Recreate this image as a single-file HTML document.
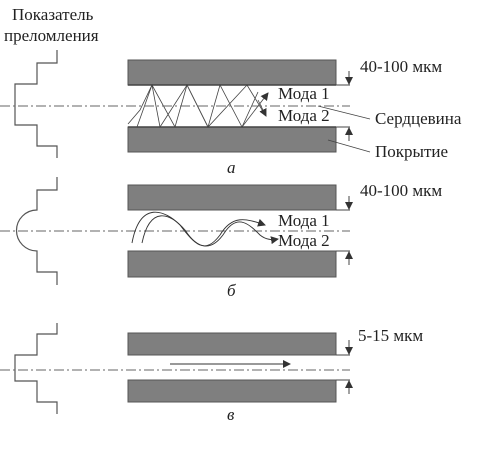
<!DOCTYPE html>
<html><head><meta charset="utf-8"><style>
html,body{margin:0;padding:0;background:#fff;width:477px;height:457px;overflow:hidden}
svg text{font-family:"Liberation Serif",serif;fill:#222}
</style></head><body>
<svg width="477" height="457" viewBox="0 0 477 457">
<defs>
<marker id="ah" markerWidth="8" markerHeight="8" refX="7" refY="4" orient="auto" markerUnits="userSpaceOnUse"><path d="M0,0 L8,4 L0,8 z" fill="#333"/></marker>
</defs>
<text x="12" y="20" font-size="17">Показатель</text>
<text x="4" y="41" font-size="17">преломления</text>

<!-- Panel a -->
<g>
<path d="M57,50 V63 H37 V84 H15 V125 H37 V146 H57 V158" fill="none" stroke="#555" stroke-width="1.2"/>
<rect x="128" y="60" width="208" height="25" fill="#7f7f7f" stroke="#555"/>
<rect x="128" y="127" width="208" height="25" fill="#7f7f7f" stroke="#555"/>
<line x1="128" y1="85" x2="336" y2="85" stroke="#444" stroke-width="1.5"/>
<line x1="128" y1="127" x2="336" y2="127" stroke="#444" stroke-width="1.5"/>
<polyline points="137,127 152,85 175,127 187,85 208,127 220,85 242,127 258,92" fill="none" stroke="#444" stroke-width="0.8"/>
<polyline points="128,124 140,110 152,85 160,127" fill="none" stroke="#444" stroke-width="0.8"/>
<polyline points="160,127 187,85 208,127 247,85 264,113" fill="none" stroke="#444" stroke-width="0.8"/>
<polyline points="242,127 268,93" fill="none" stroke="#444" stroke-width="0.8" marker-end="url(#ah)"/>
<line x1="258" y1="100" x2="266" y2="116" stroke="#444" stroke-width="0.8" marker-end="url(#ah)"/>
<line x1="0" y1="106" x2="350" y2="106" stroke="#666" stroke-dasharray="10,3,2,3"/>
<text x="278" y="99" font-size="17">Мода 1</text>
<text x="278" y="121" font-size="17">Мода 2</text>
<line x1="336" y1="85" x2="350" y2="85" stroke="#444"/>
<line x1="336" y1="127" x2="350" y2="127" stroke="#444"/>
<line x1="349" y1="71" x2="349" y2="84" stroke="#444" marker-end="url(#ah)"/>
<line x1="349" y1="141" x2="349" y2="128" stroke="#444" marker-end="url(#ah)"/>
<text x="360" y="72" font-size="17">40-100 мкм</text>
<line x1="318" y1="106" x2="370" y2="119" stroke="#444" stroke-width="0.8"/>
<text x="375" y="124" font-size="17">Сердцевина</text>
<line x1="328" y1="140" x2="370" y2="152" stroke="#444" stroke-width="0.8"/>
<text x="375" y="157" font-size="17">Покрытие</text>
<text x="227" y="173" font-size="17" font-style="italic">а</text>
</g>

<!-- Panel b -->
<g>
<path d="M57,177 V190 H37 V210 A20.5,20.5 0 0 0 37,251 V272 H57 V285" fill="none" stroke="#555" stroke-width="1.2"/>
<rect x="128" y="185" width="208" height="25" fill="#7f7f7f" stroke="#555"/>
<rect x="128" y="251" width="208" height="26" fill="#7f7f7f" stroke="#555"/>
<line x1="0" y1="231" x2="350" y2="231" stroke="#666" stroke-dasharray="10,3,2,3"/>
<path d="M132,243 C140,200 165,210 180,225 C195,245 205,255 220,235 C232,215 245,218 265,225" fill="none" stroke="#333" stroke-width="0.9" marker-end="url(#ah)"/>
<path d="M142,243 C150,205 170,213 185,230 C198,250 212,252 225,232 C238,213 250,225 260,235 C266,240 272,240 278,239" fill="none" stroke="#333" stroke-width="0.9" marker-end="url(#ah)"/>
<text x="278" y="226" font-size="17">Мода 1</text>
<text x="278" y="246" font-size="17">Мода 2</text>
<line x1="336" y1="210" x2="350" y2="210" stroke="#444"/>
<line x1="336" y1="251" x2="350" y2="251" stroke="#444"/>
<line x1="349" y1="196" x2="349" y2="209" stroke="#444" marker-end="url(#ah)"/>
<line x1="349" y1="265" x2="349" y2="252" stroke="#444" marker-end="url(#ah)"/>
<text x="360" y="196" font-size="17">40-100 мкм</text>
<text x="227" y="296" font-size="17" font-style="italic">б</text>
</g>

<!-- Panel c -->
<g>
<path d="M57,323 V334 H37 V355 H15 V381 H37 V402 H57 V414" fill="none" stroke="#555" stroke-width="1.2"/>
<rect x="128" y="333" width="208" height="22" fill="#7f7f7f" stroke="#555"/>
<rect x="128" y="380" width="208" height="22" fill="#7f7f7f" stroke="#555"/>
<line x1="0" y1="370" x2="350" y2="370" stroke="#666" stroke-dasharray="10,3,2,3"/>
<line x1="170" y1="364" x2="290" y2="364" stroke="#333" stroke-width="1" marker-end="url(#ah)"/>
<line x1="336" y1="355" x2="350" y2="355" stroke="#444"/>
<line x1="336" y1="380" x2="350" y2="380" stroke="#444"/>
<line x1="349" y1="340" x2="349" y2="354" stroke="#444" marker-end="url(#ah)"/>
<line x1="349" y1="394" x2="349" y2="381" stroke="#444" marker-end="url(#ah)"/>
<text x="358" y="341" font-size="17">5-15 мкм</text>
<text x="227" y="420" font-size="17" font-style="italic">в</text>
</g>
</svg>
</body></html>
